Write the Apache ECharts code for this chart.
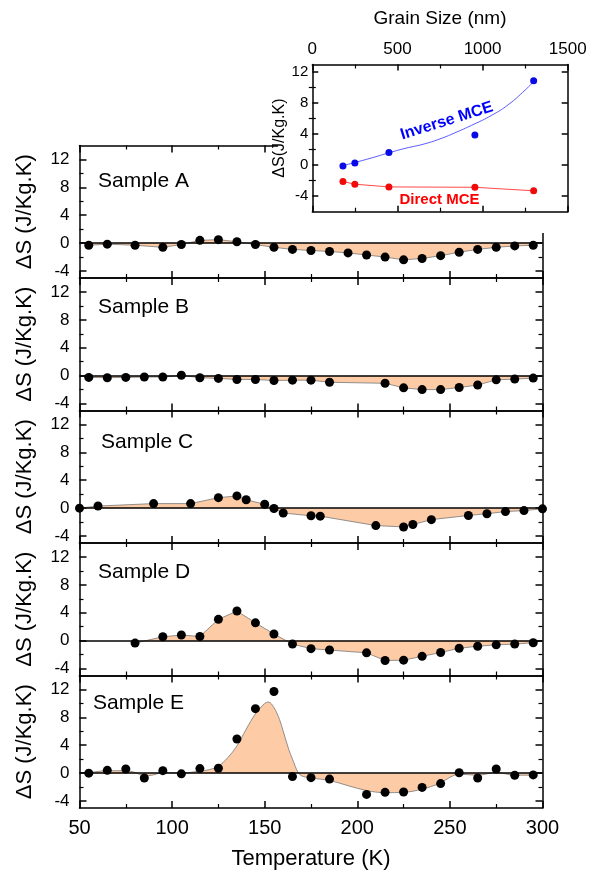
<!DOCTYPE html>
<html><head><meta charset="utf-8">
<script src="https://cdn.jsdelivr.net/npm/echarts@6/dist/echarts.min.js"></script>
<style>html,body{margin:0;padding:0;background:#fff}#c{width:590px;height:876px}</style>
</head><body><div id="c"></div>
<script>
// ---- data ----
const sampleNames = ['Sample A', 'Sample B', 'Sample C', 'Sample D', 'Sample E'];

const aT = [55,65,80,95,105,115,125,135,145,155,165,175,185,195,205,215,225,235,245,255,265,275,285,295];
const aS = [-0.3,-0.15,-0.3,-0.6,-0.2,0.4,0.5,0.2,-0.2,-0.6,-0.9,-1.05,-1.2,-1.4,-1.7,-2.0,-2.4,-2.2,-1.8,-1.3,-0.9,-0.6,-0.4,-0.3];

const bT = [55,65,75,85,95,105,115,125,135,145,155,165,175,185,215,225,235,245,255,265,275,285,295];
const bS = [-0.25,-0.3,-0.25,-0.2,-0.2,0.05,-0.3,-0.4,-0.55,-0.55,-0.7,-0.65,-0.65,-0.95,-1.1,-1.75,-2.0,-2.0,-1.7,-1.35,-0.6,-0.5,-0.35];

const cT = [50,60,90,110,125,135,140,150,155,160,175,180,210,225,230,240,260,270,280,290,300];
const cS = [0,0.3,0.65,0.65,1.5,1.75,1.2,0.55,-0.05,-0.7,-1.1,-1.15,-2.5,-2.7,-2.35,-1.65,-1.05,-0.8,-0.5,-0.35,-0.1];

const dT = [80,95,105,115,125,135,145,155,165,175,185,205,215,225,235,245,255,265,275,285,295];
const dS = [-0.35,0.55,0.8,0.6,3.05,4.25,2.55,0.95,-0.5,-1.15,-1.35,-1.75,-2.85,-2.8,-2.25,-1.7,-1.1,-0.8,-0.6,-0.5,-0.3];

const eT = [55,65,75,85,95,105,115,125,135,145,155,165,175,185,205,215,225,235,245,255,265,275,285,295];
const eS = [0,0.4,0.6,-0.7,0.35,-0.1,0.65,0.7,4.9,9.25,11.7,-0.5,-0.65,-0.85,-3.05,-2.75,-2.7,-2.05,-1.5,0.05,-0.7,0.6,-0.3,-0.25];

// smooth fitted curve of sample E
const eCurveT = [55,65,75,80,85,90,95,105,115,120,125,130,135,140,145,150,152,155,158,160,163,165,168,170,175,185,195,205,215,225,235,245,250,255,265,275,285,295];
const eCurveS = [0.05,0.35,0.35,0.1,-0.4,-0.25,0.1,0,0.3,0.5,1.0,2.2,3.9,6.3,8.5,10.0,10.2,9.4,7.7,6.0,3.4,2.0,0.1,-0.4,-0.7,-1.05,-1.8,-2.5,-2.8,-2.75,-2.3,-1.4,-0.6,-0.15,-0.3,0.1,-0.3,-0.3];

// inset
const grainSize = [180,250,450,955,1300];
const inverseS = [-0.1,0.3,1.65,3.9,10.9];
const directS = [-2.1,-2.45,-2.8,-2.85,-3.3];
const inverseFitX = [180,250,350,450,550,650,750,850,950,1050,1150,1250,1300];
const inverseFitS = [-0.05,0.35,0.95,1.6,2.2,2.7,3.4,4.3,5.3,6.4,7.8,9.7,10.8];

const yMajorTicks = [-4,0,4,8,12];
const yMinorTicks = [-2,2,6,10];
const insetYMajor = [-4,0,4,8,12];
const insetYMinor = [-2,2,6,10];

// ---- layout / style ----
const FONT = '"Liberation Sans", Arial, Helvetica, sans-serif';
const FILL = '#FDCBA5';
const PL = 79.5, PW = 463, PH = 132.5;
const tops = [145.5, 278, 410.5, 543, 675.5];
const AX = {color:'#000', width:1.5};

function pairs(xs, ys){ return xs.map((x,i)=>[x, ys[i]]); }
const zeroLine = {silent:true, symbol:'none', label:{show:false}, animation:false,
  lineStyle:{color:'#000', width:1.5, type:'solid'}, data:[{yAxis:0}]};
const plainNum = v => String(v);

const grid = [], xAxis = [], yAxis = [], series = [], graphic = [];
const panelData = [[aT,aS],[bT,bS],[cT,cS],[dT,dS],[eT,eS]];

for (let i = 0; i < 5; i++) {
  const bottom = i === 4;
  grid.push({left:PL, top:tops[i], width:PW, height:PH});
  const xBase = {gridIndex:i, type:'value', min:50, max:300, interval:50,
    axisLine:{show:true, onZero:false, lineStyle:AX},
    axisTick:{show:true, inside:true, length:7, lineStyle:AX},
    minorTick:{show:true, splitNumber:2, length:4, lineStyle:{color:'#000', width:1.2}},
    splitLine:{show:false}};
  xAxis.push(Object.assign({}, xBase, {position:'bottom',
    axisLabel:{show:bottom, color:'#000', fontFamily:FONT, fontSize:20, margin:10, formatter:plainNum},
    name: bottom ? 'Temperature (K)' : '', nameLocation:'middle', nameGap:40,
    nameTextStyle:{color:'#000', fontFamily:FONT, fontSize:22}}));
  xAxis.push(Object.assign({}, xBase, {position:'top', axisLabel:{show:false}}));

  const yBase = {gridIndex:i, type:'value', min:-5, max:14, splitLine:{show:false}};
  yAxis.push(Object.assign({}, yBase, {position:'left',
    axisLine:{show:true, onZero:false, lineStyle:AX},
    axisTick:{show:true, inside:true, length:7, customValues:yMajorTicks, lineStyle:AX},
    axisLabel:{show:true, customValues:yMajorTicks, color:'#000', fontFamily:FONT, fontSize:17, margin:10},
    name:'\u0394S (J/Kg.K)', nameLocation:'middle', nameRotate:90, nameGap:44,
    nameTextStyle:{color:'#000', fontFamily:FONT, fontSize:22}}));
  yAxis.push(Object.assign({}, yBase, {position:'left', axisLine:{show:false},
    axisTick:{show:true, inside:true, length:4, customValues:yMinorTicks, lineStyle:{color:'#000', width:1.2}},
    axisLabel:{show:false}}));
  yAxis.push(Object.assign({}, yBase, {position:'right',
    axisLine:{show:true, onZero:false, lineStyle:AX},
    axisTick:{show:true, inside:true, length:7, customValues:yMajorTicks, lineStyle:AX},
    axisLabel:{show:false}}));
  yAxis.push(Object.assign({}, yBase, {position:'right', axisLine:{show:false},
    axisTick:{show:true, inside:true, length:4, customValues:yMinorTicks, lineStyle:{color:'#000', width:1.2}},
    axisLabel:{show:false}}));

  const [xs, ys] = panelData[i];
  const lineData = i === 4 ? pairs(eCurveT, eCurveS) : pairs(xs, ys);
  series.push({type:'line', xAxisIndex:2*i, yAxisIndex:4*i, data:lineData,
    smooth: i === 4 ? 0.35 : false, symbol:'none',
    lineStyle:{color:'#777', width:0.8}, areaStyle:{color:FILL, opacity:1, origin:0},
    markLine:zeroLine, z:2});
  series.push({type:'scatter', xAxisIndex:2*i, yAxisIndex:4*i, data:pairs(xs, ys),
    symbol:'circle', symbolSize:9, itemStyle:{color:'#000', opacity:1}, z:4});
}

const samplePos = [[98,181],[98,307],[101,442],[98,572],[93,703]];
sampleNames.forEach((s, i) => {
  graphic.push({type:'text', x:samplePos[i][0], y:samplePos[i][1], z:10,
    style:{text:s, fill:'#000', font:'21px ' + FONT, verticalAlign:'middle', align:'left'}});
});

// ---- inset ----
const IZ = 1;
grid.push({left:312.3, top:64.5, width:255.4, height:147.2, zlevel:IZ, z:5});
const ixBase = {gridIndex:5, type:'value', min:0, max:1500, interval:500, zlevel:IZ, z:5,
  axisLine:{show:true, onZero:false, lineStyle:AX},
  axisTick:{show:true, inside:true, length:6, lineStyle:AX},
  minorTick:{show:true, splitNumber:2, length:4, lineStyle:{color:'#000', width:1.2}},
  splitLine:{show:false}};
xAxis.push(Object.assign({}, ixBase, {position:'top',
  axisLabel:{show:true, color:'#000', fontFamily:FONT, fontSize:17, margin:7, formatter:plainNum},
  name:'Grain Size (nm)', nameLocation:'middle', nameGap:36,
  nameTextStyle:{color:'#000', fontFamily:FONT, fontSize:19}}));
xAxis.push(Object.assign({}, ixBase, {position:'bottom', axisLabel:{show:false}}));
const iyBase = {gridIndex:5, type:'value', min:-6, max:13, splitLine:{show:false}, zlevel:IZ, z:5};
yAxis.push(Object.assign({}, iyBase, {position:'left',
  axisLine:{show:true, onZero:false, lineStyle:AX},
  axisTick:{show:true, inside:true, length:6, customValues:insetYMajor, lineStyle:AX},
  axisLabel:{show:true, customValues:insetYMajor, color:'#000', fontFamily:FONT, fontSize:15, margin:4},
  name:'\u0394S(J/Kg.K)', nameLocation:'middle', nameRotate:90, nameGap:20,
  nameTextStyle:{color:'#000', fontFamily:FONT, fontSize:16}}));
yAxis.push(Object.assign({}, iyBase, {position:'left', axisLine:{show:false},
  axisTick:{show:true, inside:true, length:3.5, customValues:insetYMinor, lineStyle:{color:'#000', width:1.2}},
  axisLabel:{show:false}}));
yAxis.push(Object.assign({}, iyBase, {position:'right',
  axisLine:{show:true, onZero:false, lineStyle:AX},
  axisTick:{show:true, inside:true, length:6, customValues:insetYMajor, lineStyle:AX},
  axisLabel:{show:false}}));
yAxis.push(Object.assign({}, iyBase, {position:'right', axisLine:{show:false},
  axisTick:{show:true, inside:true, length:3.5, customValues:insetYMinor, lineStyle:{color:'#000', width:1.2}},
  axisLabel:{show:false}}));

series.push({type:'line', xAxisIndex:10, yAxisIndex:20, data:pairs(inverseFitX, inverseFitS),
  smooth:true, symbol:'none', lineStyle:{color:'#5a5aff', width:1}, markLine:zeroLine, zlevel:IZ, z:6});
series.push({type:'line', xAxisIndex:10, yAxisIndex:20, data:pairs(grainSize, directS),
  symbol:'none', lineStyle:{color:'#ff4a4a', width:1}, zlevel:IZ, z:6});
series.push({type:'scatter', xAxisIndex:10, yAxisIndex:20, data:pairs(grainSize, inverseS),
  symbolSize:7, itemStyle:{color:'#0a0ae6', opacity:1}, zlevel:IZ, z:7});
series.push({type:'scatter', xAxisIndex:10, yAxisIndex:20, data:pairs(grainSize, directS),
  symbolSize:7, itemStyle:{color:'#f00a0a', opacity:1}, zlevel:IZ, z:7});

graphic.push({type:'rect', shape:{x:278, y:0, width:312, height:233}, style:{fill:'#fff'}, zlevel:IZ, z:0});
graphic.push({type:'text', x:446.7, y:121, rotation:0.305, zlevel:IZ, z:20,
  style:{text:'Inverse MCE', fill:'#0000ff', font:'bold 16px ' + FONT, align:'center', verticalAlign:'middle'}});
graphic.push({type:'text', x:439.5, y:200, zlevel:IZ, z:20,
  style:{text:'Direct MCE', fill:'#ff0000', font:'bold 15px ' + FONT, align:'center', verticalAlign:'middle'}});

const chart = echarts.init(document.getElementById('c'), null, {renderer:'canvas'});
chart.setOption({animation:false, backgroundColor:'#fff', grid, xAxis, yAxis, series, graphic});
</script></body></html>
